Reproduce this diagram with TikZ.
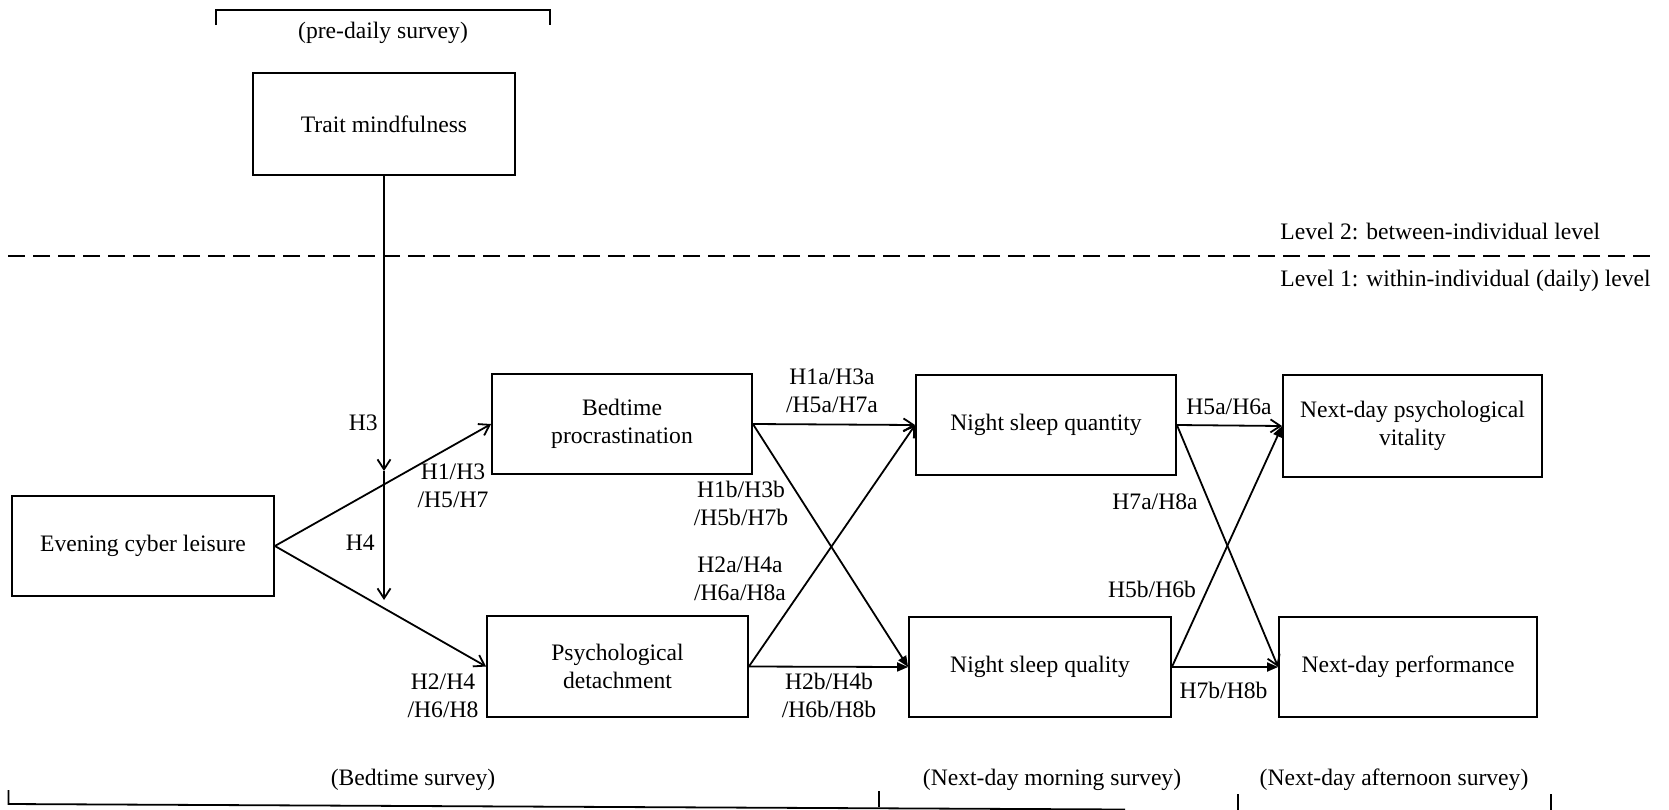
\documentclass[tikz,border=0pt]{standalone}
\usepackage{fontspec}
\setmainfont{Liberation Serif}
\usetikzlibrary{arrows.meta}
\begin{document}
\begin{tikzpicture}[x=0.5pt,y=-0.5pt,
  txt/.style={font=\fontsize{11.8}{14}\selectfont},
  box/.style={txt,draw,line width=0.9pt,minimum width=130pt,minimum height=50pt,inner sep=2pt,align=center},
  lbl/.style={txt,inner sep=0pt,align=center},
  ln/.style={line width=0.9pt},
  openarr/.style={ln,-{Straight Barb[length=5pt,width=6.5pt,line width=0.9pt]}},
  fillarr/.style={ln,-{Triangle[length=5.5pt,width=4.5pt]}},
]
\useasboundingbox (0,0) rectangle (1669,809);

% boxes
\node[box,minimum width=131pt,minimum height=51pt] (trait) at (384,124) {Trait mindfulness};
\node[box,minimum width=131pt] (eve) at (143,546) {Evening cyber leisure};
\node[box] (bed) at (622,424) {Bedtime\\procrastination};
\node[box,minimum width=130.5pt,minimum height=50.5pt] (psy) at (617.5,666.5) {Psychological\\detachment};
\node[box] (qty) at (1046,425) {Night sleep quantity};
\node[box,minimum width=131pt] (qly) at (1040,667) {Night sleep quality};
\node[box,minimum width=129.5pt,minimum height=51pt] (vit) at (1412.5,426) {Next-day psychological\\vitality};
\node[box,minimum width=129pt] (perf) at (1408,667) {Next-day performance};

% moderator arrows
\coordinate (m1) at (384,471);
\coordinate (m2) at (384,600);
\draw[openarr] (trait.south) -- (m1);
\draw[openarr] (m1) -- (m2);

% paths
\draw[openarr] (eve.east) -- (bed.west);
\draw[openarr] (eve.east) -- (psy.west);
\draw[openarr] (bed.east) -- (qty.west);
\draw[fillarr] (bed.east) -- (qly.west);
\draw[openarr] (psy.east) -- (qty.west);
\draw[fillarr] (psy.east) -- (qly.west);
\draw[openarr] (qty.east) -- (vit.west);
\draw[openarr] (qty.east) -- (perf.west);
\draw[fillarr] (qly.east) -- (vit.west);
\draw[fillarr] (qly.east) -- (perf.west);

% labels
\node[lbl,anchor=east] (lh3) at (378,423) {H3};
\node[lbl,anchor=east] (lh4) at (375,543) {H4};
\node[lbl] (l1) at (453,486) {H1/H3\\/H5/H7};
\node[lbl] (l2) at (443,696) {H2/H4\\/H6/H8};
\node[lbl] (l1a) at (832,391) {H1a/H3a\\/H5a/H7a};
\node[lbl] (l1b) at (741,503) {H1b/H3b\\/H5b/H7b};
\node[lbl] (l2a) at (740,579) {H2a/H4a\\/H6a/H8a};
\node[lbl] (l2b) at (829,695) {H2b/H4b\\/H6b/H8b};
\node[lbl] (l5a) at (1229,407) {H5a/H6a};
\node[lbl] (l7a) at (1155,502) {H7a/H8a};
\node[lbl] (l5b) at (1152,589) {H5b/H6b};
\node[lbl] (l7b) at (1223.5,690) {H7b/H8b};

% levels
\coordinate (dl) at (8,256);
\coordinate (dr) at (1657,256);
\draw[ln,dash pattern=on 8.5pt off 4pt] (dl) -- (dr);
\node[lbl,anchor=west] (lv2) at (1280,231) {Level 2: between-individual level};
\node[lbl,anchor=west] (lv1) at (1280,281) {Level 1: within-individual (daily) level};

% top bracket
\coordinate (ta) at (216,25);
\coordinate (tb) at (216,10);
\coordinate (tc) at (550,10);
\coordinate (td) at (550,25);
\draw[ln] (ta) -- (tb) -- (tc) -- (td);
\node[lbl] (pre) at (383,33) {(pre-daily survey)};

% bottom brackets
\node[lbl] (bs) at (413,780) {(Bedtime survey)};
\node[lbl] (ms) at (1052,780) {(Next-day morning survey)};
\node[lbl] (as) at (1394,780) {(Next-day afternoon survey)};
\coordinate (ba) at (8.5,790);
\coordinate (bb) at (8.5,804);
\coordinate (bc) at (1125,809.5);
\coordinate (bd) at (879,791);
\coordinate (be) at (879,807);
\coordinate (bf) at (1238,794);
\coordinate (bg) at (1238,812);
\coordinate (bh) at (1551,794);
\coordinate (bi) at (1551,812);
\draw[ln] (ba) -- (bb) -- (bc);
\draw[ln] (bd) -- (be);
\draw[ln] (bf) -- (bg);
\draw[ln] (bh) -- (bi);
\end{tikzpicture}
\end{document}
